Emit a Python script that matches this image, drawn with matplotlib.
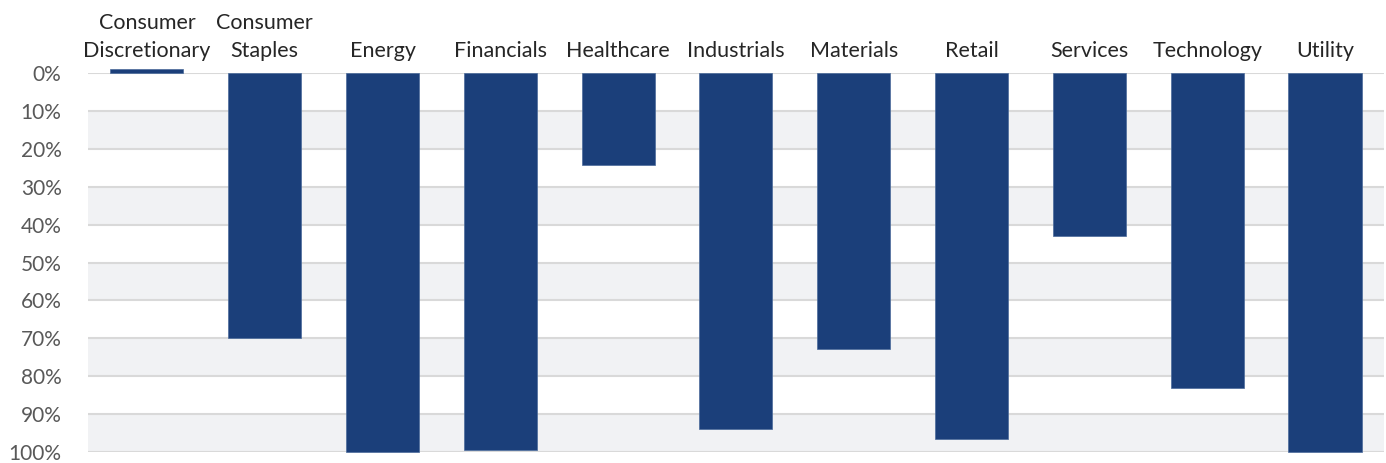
import matplotlib.pyplot as plt
from matplotlib.ticker import FuncFormatter

# sector values in percent (bars hang down from 0%)
sectors = ["Consumer\nDiscretionary", "Consumer\nStaples", "Energy", "Financials",
           "Healthcare", "Industrials", "Materials", "Retail", "Services",
           "Technology", "Utility"]
values = [-1.0, 69.8, 100.0, 99.4, 24.3, 93.9, 72.9, 96.5, 42.9, 83.1, 100.0]
y_ticks = list(range(0, 101, 10))

plt.rcParams['font.family'] = ['Lato', 'DejaVu Sans']

fig = plt.figure(figsize=(13.86, 4.63), dpi=100)
ax = fig.add_axes([0.0635, 0.0237, 0.935, 0.8183])

x = list(range(len(sectors)))
# alternating grey bands
for lo in range(10, 100, 20):
    ax.axhspan(lo, lo + 10, color='#f1f2f4', zorder=0, lw=0)
for t in y_ticks:
    ax.axhline(t, color='#d9d9d9', lw=1.5, zorder=1)

ax.bar(x, values, width=0.62, color='#1b3f7a', edgecolor='#4a6a9a',
       linewidth=0.5, zorder=3, clip_on=False)

ax.set_xlim(-0.5, len(sectors) - 0.5)
ax.set_ylim(100, 0)
ax.set_yticks(y_ticks)
ax.yaxis.set_major_formatter(FuncFormatter(lambda v, p: '{:.0f}%'.format(v)))
ax.tick_params(axis='y', length=0, pad=19, labelsize=15, labelcolor='#595959')

ax.xaxis.tick_top()
ax.set_xticks(x)
ax.set_xticklabels(sectors, linespacing=1.45)
ax.tick_params(axis='x', length=0, pad=9, labelsize=15.5, labelcolor='#262626')

for s in ax.spines.values():
    s.set_visible(False)

fig.savefig('out.png', dpi=100)
